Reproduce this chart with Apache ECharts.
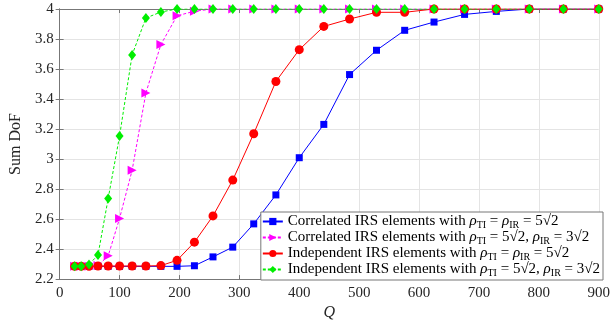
<!DOCTYPE html>
<html>
<head>
<meta charset="utf-8">
<script src="https://cdn.jsdelivr.net/npm/echarts@6/dist/echarts.min.js"></script>
<style>
html,body{margin:0;padding:0;background:#fff;}
#main{width:613px;height:326px;}
</style>
</head>
<body>
<div id="main"></div>
<script>
// Q = N^2, N = 5..30
var qValues = [25,36,49,64,81,100,121,144,169,196,225,256,289,324,361,400,441,484,529,576,625,676,729,784,841,900];

var corrSame = [2.285,2.285,2.285,2.285,2.285,2.285,2.285,2.285,2.285,2.285,2.289,2.348,2.413,2.568,2.761,3.009,3.231,3.563,3.725,3.858,3.913,3.964,3.984,4,4,4];
var corrDiff = [2.285,2.285,2.285,2.29,2.355,2.604,2.925,3.441,3.763,3.955,3.985,4,4,4,4,4,4,4,4,4,4,4,4,4,4,4];
var indSame  = [2.285,2.285,2.285,2.287,2.287,2.287,2.287,2.287,2.29,2.325,2.446,2.621,2.86,3.169,3.517,3.729,3.884,3.933,3.978,3.978,4,4,4,4,4,4];
var indDiff  = [2.285,2.285,2.298,2.36,2.737,3.153,3.694,3.94,3.98,4,4,4,4,4,4,4,4,4,4,4,4,4,4,4,4,4];

var seriesNames = ['corrSame','corrDiff','indSame','indDiff'];
var legendText = {
    corrSame: '{t|Correlated IRS elements with }{i|ρ}{s|TI}{t| = }{i|ρ}{s|IR}{t| = 5√2}',
    corrDiff: '{t|Correlated IRS elements with }{i|ρ}{s|TI}{t| = 5√2, }{i|ρ}{s|IR}{t| = 3√2}',
    indSame:  '{t|Independent IRS elements with }{i|ρ}{s|TI}{t| = }{i|ρ}{s|IR}{t| = 5√2}',
    indDiff:  '{t|Independent IRS elements with }{i|ρ}{s|TI}{t| = 5√2, }{i|ρ}{s|IR}{t| = 3√2}'
};

function pairs(ys){
    return qValues.map(function(q, i){ return [q, ys[i]]; });
}

var myChart = echarts.init(document.getElementById('main'));
var font = 'Liberation Serif';
var axisColor = '#777';

option = {
    animation: false,
    color: ['#0000ff','#ff00ff','#ff0000','#00ee00'],
    grid: { left: 47, top: 9, right: 10, bottom: 46 },
    legend: {
        orient: 'vertical',
        right: 10,
        bottom: 46,
        itemGap: 0,
        itemWidth: 20,
        itemHeight: 9,
        padding: [2, 3, 2, 1],
        borderColor: axisColor,
        borderWidth: 1,
        borderRadius: 0,
        backgroundColor: '#fff',
        data: seriesNames,
        formatter: function(name){ return legendText[name]; },
        textStyle: {
            fontFamily: font,
            color: '#000',
            rich: {
                t: { fontFamily: font, fontSize: 15, lineHeight: 17 },
                i: { fontFamily: font, fontSize: 15, fontStyle: 'italic', lineHeight: 17 },
                s: { fontFamily: font, fontSize: 10, lineHeight: 11, verticalAlign: 'bottom' }
            }
        }
    },
    xAxis: [
        {
            type: 'value', min: 0, max: 900, interval: 100,
            name: 'Q', nameLocation: 'middle', nameGap: 24,
            nameTextStyle: { fontFamily: font, fontSize: 16, fontStyle: 'italic', color: '#262626' },
            axisLine: { show: true, lineStyle: { color: axisColor } },
            axisTick: { show: true, inside: true, length: 4, lineStyle: { color: axisColor } },
            axisLabel: { fontFamily: font, fontSize: 15, color: '#262626', margin: 6 },
            splitLine: { show: true, lineStyle: { color: '#e4e4e4' } }
        },
        {
            type: 'value', min: 0, max: 900, interval: 100, position: 'top',
            axisLine: { show: true, lineStyle: { color: axisColor } },
            axisTick: { show: true, inside: true, length: 4, lineStyle: { color: axisColor } },
            axisLabel: { show: false },
            splitLine: { show: false }
        }
    ],
    yAxis: [
        {
            type: 'value', min: 2.2, max: 4, interval: 0.2,
            name: 'Sum DoF', nameLocation: 'middle', nameGap: 31, nameRotate: 90,
            nameTextStyle: { fontFamily: font, fontSize: 16, color: '#262626' },
            axisLine: { show: true, lineStyle: { color: axisColor } },
            axisTick: { show: true, inside: true, length: 4, lineStyle: { color: axisColor } },
            axisLabel: {
                fontFamily: font, fontSize: 15, color: '#262626', margin: 6,
                formatter: function(v){ return String(Math.round(v * 10) / 10); }
            },
            splitLine: { show: true, lineStyle: { color: '#e4e4e4' } }
        },
        {
            type: 'value', min: 2.2, max: 4, interval: 0.2, position: 'right',
            axisLine: { show: true, lineStyle: { color: axisColor } },
            axisTick: { show: true, inside: true, length: 4, lineStyle: { color: axisColor } },
            axisLabel: { show: false },
            splitLine: { show: false }
        }
    ],
    series: [
        {
            name: 'corrSame', type: 'line', data: pairs(corrSame),
            symbol: 'rect', symbolSize: 7,
            lineStyle: { width: 1, type: 'solid' }
        },
        {
            name: 'corrDiff', type: 'line', data: pairs(corrDiff),
            symbol: 'path://M0,0 L10,5 L0,10 Z', symbolSize: 9,
            lineStyle: { width: 1, type: [3, 2] }
        },
        {
            name: 'indSame', type: 'line', data: pairs(indSame),
            symbol: 'circle', symbolSize: 9,
            lineStyle: { width: 1, type: 'solid' }
        },
        {
            name: 'indDiff', type: 'line', data: pairs(indDiff),
            symbol: 'diamond', symbolSize: [8, 10],
            lineStyle: { width: 1, type: [3, 2] }
        }
    ]
};
myChart.setOption(option);
</script>
</body>
</html>
